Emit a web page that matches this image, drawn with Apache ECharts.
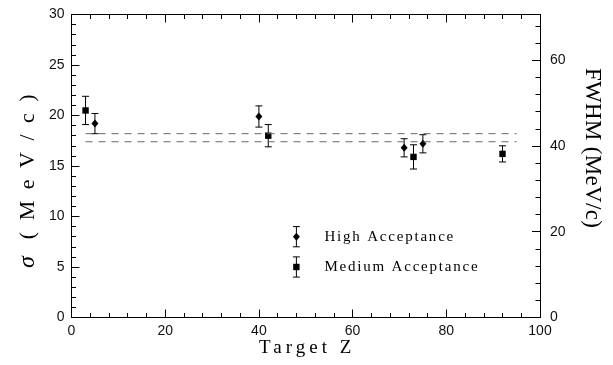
<!DOCTYPE html>
<html>
<head>
<meta charset="utf-8">
<script src="https://cdn.jsdelivr.net/npm/echarts@6/dist/echarts.min.js"></script>
<style>
html,body{margin:0;padding:0;background:#fff;}
#chart{width:613px;height:365px;}
</style>
</head>
<body>
<div id="chart"></div>
<script>
// ---- data ----
const zHigh = [5, 40, 71, 75];
const sigmaHigh = [19.2, 19.9, 16.8, 17.2];
const errHigh = [1.0, 1.05, 0.9, 0.9];

const zMedium = [3, 42, 73, 92];
const sigmaMedium = [20.5, 18.0, 15.9, 16.2];
const errMedium = [1.4, 1.1, 1.2, 0.8];

const fitZ = [3, 95];
const fitUpper = [18.2, 18.2];
const fitLower = [17.4, 17.4];

const legendLabels = ['High Acceptance', 'Medium Acceptance'];
const legendErr = [1, 1];

const xTicks = [0, 20, 40, 60, 80, 100];
const sigmaTicks = [0, 5, 10, 15, 20, 25, 30];
const fwhmTicks = [0, 20, 40, 60];
const FWHM_FACTOR = 2.355;

const xTitle = 'Target Z';
const yTitleSymbol = 'σ';
const yTitleUnit = ' (MeV/c)';
const y2Title = 'FWHM (MeV/c)';

// ---- layout / style (not data) ----
const LEGEND_POS = [[48, 8], [48, 5]];
const SERIF = '"Liberation Serif", "Times New Roman", serif';
const SANS = '"Liberation Sans", Arial, sans-serif';
const LETTER_SPACING = {};
LETTER_SPACING[xTitle] = 4;
LETTER_SPACING[yTitleSymbol] = 7;
LETTER_SPACING[yTitleUnit] = 11.5;
LETTER_SPACING[y2Title] = 0.3;
LETTER_SPACING[legendLabels[0]] = 1.8;
LETTER_SPACING[legendLabels[1]] = 1.8;

// wide tracking of the original typesetting (canvas letterSpacing)
(function () {
  const proto = CanvasRenderingContext2D.prototype;
  const orig = proto.fillText;
  function refreshFont(ctx) {
    const f = ctx.font;
    ctx.font = '10px serif';
    ctx.font = f;
  }
  proto.fillText = function (t, x, y, mw) {
    const ls = LETTER_SPACING[t];
    const hasLS = ('letterSpacing' in this);
    if (hasLS) {
      this.letterSpacing = (ls ? ls : 0) + 'px';
      refreshFont(this);
    }
    if (mw === undefined) orig.call(this, t, x, y); else orig.call(this, t, x, y, mw);
    if (hasLS && ls) {
      this.letterSpacing = '0px';
      refreshFont(this);
    }
  };
})();

function shapeFor(kind, x, y) {
  if (kind === 'diamond') {
    const h = 3.5;
    return {type: 'polygon', shape: {points: [[x, y - h - 0.5], [x + h, y], [x, y + h + 0.5], [x - h, y]]}, style: {fill: '#000'}};
  }
  const s = 3.2;
  return {type: 'rect', shape: {x: x - s, y: y - s, width: 2 * s, height: 2 * s}, style: {fill: '#000'}};
}

function errRenderer(kind) {
  return function (params, api) {
    const z = api.value(0), v = api.value(1), e = api.value(2);
    const c = api.coord([z, v]);
    const lo = api.coord([z, v - e]);
    const hi = api.coord([z, v + e]);
    const cap = 3.5;
    const ls = {stroke: '#000', lineWidth: 1};
    const children = [
      {type: 'line', shape: {x1: c[0], y1: lo[1], x2: c[0], y2: hi[1]}, style: ls},
      {type: 'line', shape: {x1: c[0] - cap, y1: lo[1], x2: c[0] + cap, y2: lo[1]}, style: ls},
      {type: 'line', shape: {x1: c[0] - cap, y1: hi[1], x2: c[0] + cap, y2: hi[1]}, style: ls},
      shapeFor(kind, c[0], c[1])
    ];
    const label = api.value(3);
    if (label) {
      children.push({type: 'text', style: {x: c[0] + 28, y: c[1], text: label, fill: '#000',
        font: '15px ' + SERIF, textVerticalAlign: 'middle', textAlign: 'left'}});
    }
    return {type: 'group', children: children};
  };
}

const highData = zHigh.map((z, i) => [z, sigmaHigh[i], errHigh[i], '']);
const medData = zMedium.map((z, i) => [z, sigmaMedium[i], errMedium[i], '']);
const legHigh = [[LEGEND_POS[0][0], LEGEND_POS[0][1], legendErr[0], legendLabels[0]]];
const legMed = [[LEGEND_POS[1][0], LEGEND_POS[1][1], legendErr[1], legendLabels[1]]];

const chart = echarts.init(document.getElementById('chart'), null, {renderer: 'canvas'});
const tickStyle = {color: '#000', width: 1};
const minorStyle = {color: '#000', width: 1};
const labelColor = '#111';
chart.setOption({
  backgroundColor: '#fff',
  animation: false,
  grid: {left: 71.5, right: 73, top: 14.5, bottom: 47.5, show: false},
  xAxis: [{
    type: 'value', min: 0, max: 100, interval: 20, position: 'bottom',
    axisLine: {show: true, onZero: false, lineStyle: tickStyle},
    axisTick: {show: true, inside: true, length: 8, lineStyle: tickStyle},
    minorTick: {show: true, splitNumber: 5, length: 4.5, lineStyle: minorStyle},
    axisLabel: {fontFamily: SANS, fontSize: 14, color: labelColor, margin: 7, formatter: v => xTicks.includes(v) ? String(v) : ''},
    splitLine: {show: false}
  }, {
    type: 'value', min: 0, max: 100, interval: 20, position: 'top',
    axisLine: {show: true, onZero: false, lineStyle: tickStyle},
    axisTick: {show: true, inside: true, length: 8, lineStyle: tickStyle},
    minorTick: {show: true, splitNumber: 5, length: 4.5, lineStyle: minorStyle},
    axisLabel: {show: false}, splitLine: {show: false}
  }],
  yAxis: [{
    type: 'value', min: 0, max: 30, interval: 5, position: 'left',
    axisLine: {show: true, onZero: false, lineStyle: tickStyle},
    axisTick: {show: true, inside: true, length: 8, lineStyle: tickStyle},
    minorTick: {show: true, splitNumber: 5, length: 4.5, lineStyle: minorStyle},
    axisLabel: {fontFamily: SANS, fontSize: 14, color: labelColor, margin: 7, formatter: v => sigmaTicks.includes(v) ? String(v) : ''},
    splitLine: {show: false}
  }, {
    type: 'value', min: 0, max: 30 * FWHM_FACTOR, interval: 20, position: 'right',
    axisLine: {show: true, onZero: false, lineStyle: tickStyle},
    axisTick: {show: true, inside: true, length: 8, lineStyle: tickStyle},
    minorTick: {show: true, splitNumber: 5, length: 4.5, lineStyle: minorStyle},
    axisLabel: {fontFamily: SANS, fontSize: 14, color: labelColor, margin: 10, showMaxLabel: false,
      formatter: v => fwhmTicks.includes(v) ? String(v) : ''},
    splitLine: {show: false}
  }],
  graphic: [
    {type: 'text', x: 259, y: 348, silent: true,
      style: {text: xTitle, font: '19px ' + SERIF, fill: '#000', textAlign: 'left', textVerticalAlign: 'middle'}},
    {type: 'text', x: 28, y: 268, rotation: Math.PI / 2, silent: true,
      style: {text: '{i|' + yTitleSymbol + '}{r|' + yTitleUnit + '}', fill: '#000', textAlign: 'left', textVerticalAlign: 'middle',
        rich: {i: {fontFamily: SERIF, fontStyle: 'italic', fontSize: 24, fill: '#000'},
               r: {fontFamily: SERIF, fontSize: 22, fill: '#000'}}}},
    {type: 'text', x: 592, y: 68, rotation: -Math.PI / 2, silent: true,
      style: {text: y2Title, font: '23px ' + SERIF, fill: '#000', textAlign: 'left', textVerticalAlign: 'middle'}}
  ],
  series: [
    {type: 'line', xAxisIndex: 0, yAxisIndex: 0, symbol: 'none', silent: true,
      data: fitZ.map((z, i) => [z, fitUpper[i]]),
      lineStyle: {color: '#666', width: 1, type: [7, 6]}},
    {type: 'line', xAxisIndex: 0, yAxisIndex: 0, symbol: 'none', silent: true,
      data: fitZ.map((z, i) => [z, fitLower[i]]),
      lineStyle: {color: '#666', width: 1, type: [7, 6]}},
    {type: 'custom', xAxisIndex: 0, yAxisIndex: 0, renderItem: errRenderer('diamond'), data: highData, encode: {x: 0, y: 1}},
    {type: 'custom', xAxisIndex: 0, yAxisIndex: 0, renderItem: errRenderer('square'), data: medData, encode: {x: 0, y: 1}},
    {type: 'custom', xAxisIndex: 0, yAxisIndex: 0, renderItem: errRenderer('diamond'), data: legHigh, encode: {x: 0, y: 1}},
    {type: 'custom', xAxisIndex: 0, yAxisIndex: 0, renderItem: errRenderer('square'), data: legMed, encode: {x: 0, y: 1}}
  ]
});
</script>
</body>
</html>
